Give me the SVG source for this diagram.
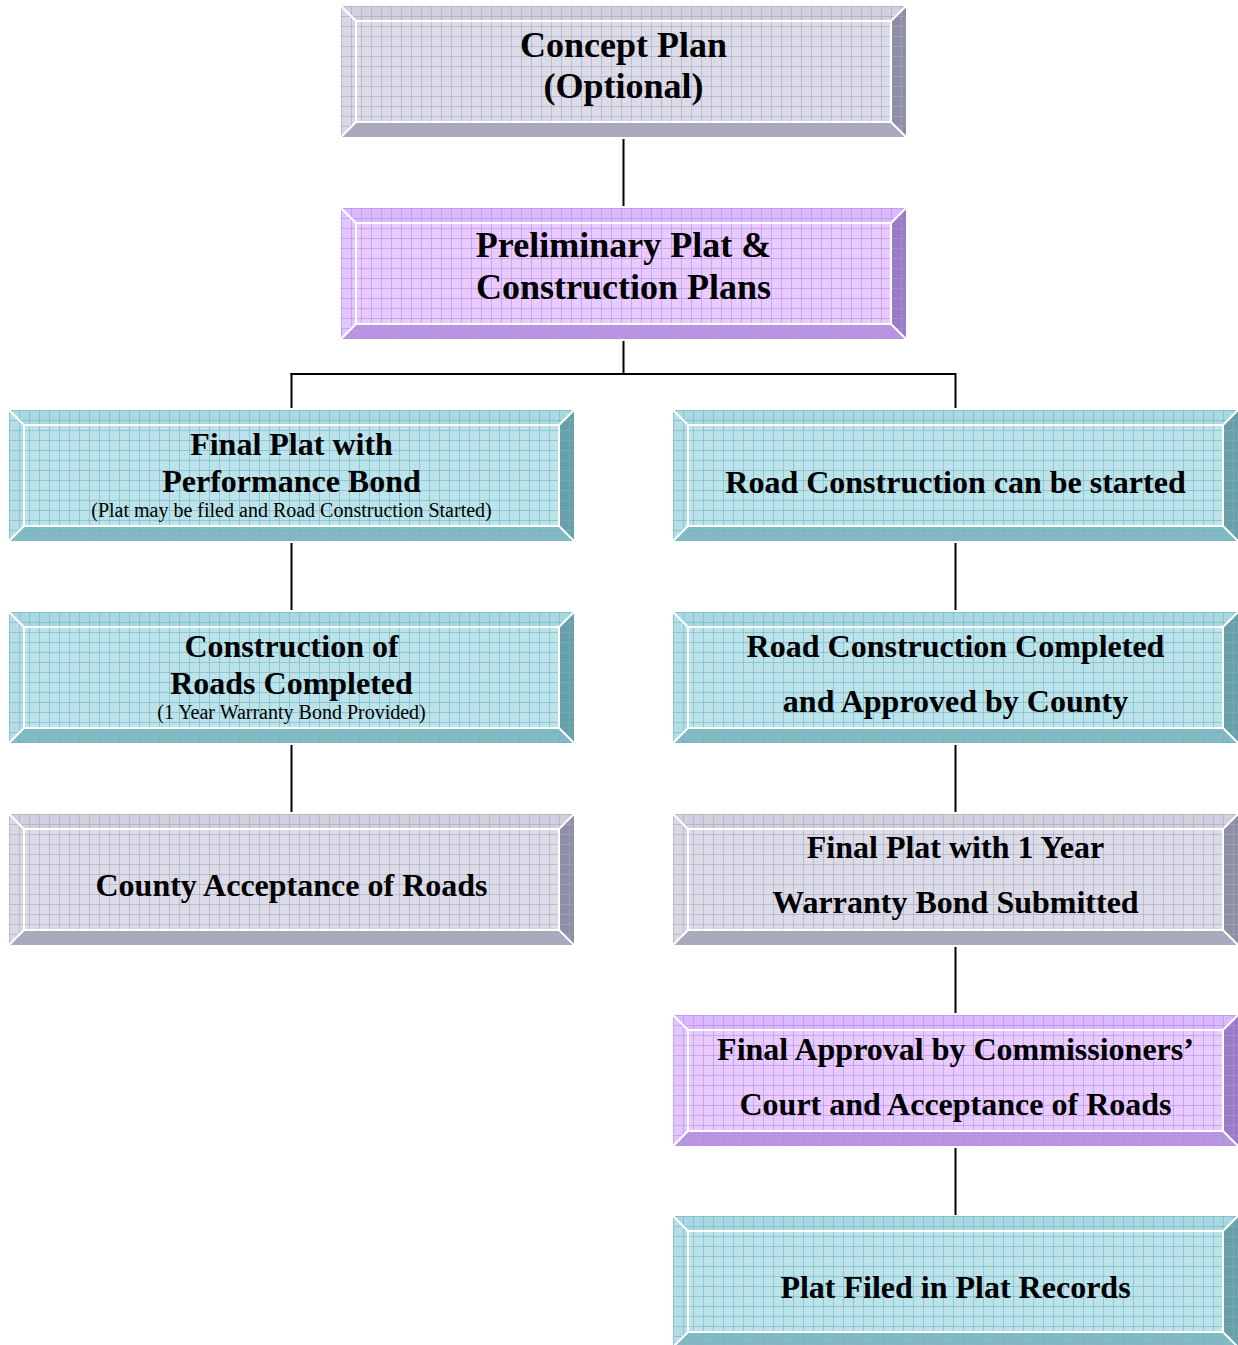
<svg xmlns="http://www.w3.org/2000/svg" width="1238" height="1345" viewBox="0 0 1238 1345">
<style>
.t1{font-family:"Liberation Serif","Times New Roman",serif;font-weight:bold;font-size:36px;text-anchor:middle;fill:#000}
.t2{font-family:"Liberation Serif","Times New Roman",serif;font-weight:bold;font-size:32px;text-anchor:middle;fill:#000}
.t3{font-family:"Liberation Serif","Times New Roman",serif;font-size:20px;text-anchor:middle;fill:#000}
.gray .f{fill:#dcdce8}.gray .tp{fill:#d0d0de}.gray .lf{fill:#d8d8e4}.gray .bt{fill:#a9a9bd}.gray .rt{fill:#8e8ea4}.gray .g{fill:url(#gGray)}
.purp .f{fill:#e8ccff}.purp .tp{fill:#dbb9ff}.purp .lf{fill:#e2c6ff}.purp .bt{fill:#b897e2}.purp .rt{fill:#9a7bc6}.purp .g{fill:url(#gPurp)}
.teal .f{fill:#bce2ea}.teal .tp{fill:#a9d8e1}.teal .lf{fill:#b4dde6}.teal .bt{fill:#82b9c3}.teal .rt{fill:#6a9fa9}.teal .g{fill:url(#gTeal)}
.w{fill:none;stroke:#fff;stroke-width:2}
.conn line{stroke:#000;stroke-width:2}
</style>
<defs>
<pattern id="gGray" width="10" height="10" patternUnits="userSpaceOnUse"><path d="M0 0.5H10M0.5 0V10" stroke="#a8a8c0" stroke-width="1" opacity="0.6" fill="none"/></pattern>
<pattern id="gPurp" width="10" height="10" patternUnits="userSpaceOnUse"><path d="M0 0.5H10M0.5 0V10" stroke="#b98ae8" stroke-width="1" opacity="0.6" fill="none"/></pattern>
<pattern id="gTeal" width="10" height="10" patternUnits="userSpaceOnUse"><path d="M0 0.5H10M0.5 0V10" stroke="#6fb5c3" stroke-width="1" opacity="0.6" fill="none"/></pattern>
</defs>
<rect width="1238" height="1345" fill="#fff"/>
<g id="connectors" class="conn">
<line x1="623.5" y1="139" x2="623.5" y2="206"/>
<line x1="623.5" y1="341" x2="623.5" y2="374"/>
<line x1="290.5" y1="374" x2="955.5" y2="374"/>
<line x1="291.5" y1="373" x2="291.5" y2="408"/>
<line x1="955.5" y1="373" x2="955.5" y2="408"/>
<line x1="291.5" y1="543" x2="291.5" y2="610"/>
<line x1="955.5" y1="543" x2="955.5" y2="610"/>
<line x1="291.5" y1="745" x2="291.5" y2="812"/>
<line x1="955.5" y1="745" x2="955.5" y2="812"/>
<line x1="955.5" y1="947" x2="955.5" y2="1013"/>
<line x1="955.5" y1="1148" x2="955.5" y2="1215"/>
</g>
<g id="n-concept" class="gray" transform="translate(341,6)">
<rect class="f" x="15" y="15" width="535" height="101"/><polygon class="tp" points="0,0 565,0 550,15 15,15"/><polygon class="lf" points="0,0 15,15 15,116 0,131"/><polygon class="bt" points="0,131 15,116 550,116 565,131"/><polygon class="rt" points="565,0 565,131 550,116 550,15"/><rect class="g" width="565" height="131"/><rect class="w" x="15" y="15" width="535" height="101"/><path class="w" d="M0 0L15 15M565 0L550 15M0 131L15 116M565 131L550 116"/>
<text class="t1" x="282.5" y="51">Concept Plan</text><text class="t1" x="282.5" y="92">(Optional)</text></g>
<g id="n-prelim" class="purp" transform="translate(341,208)">
<rect class="f" x="15" y="15" width="535" height="101"/><polygon class="tp" points="0,0 565,0 550,15 15,15"/><polygon class="lf" points="0,0 15,15 15,116 0,131"/><polygon class="bt" points="0,131 15,116 550,116 565,131"/><polygon class="rt" points="565,0 565,131 550,116 550,15"/><rect class="g" width="565" height="131"/><rect class="w" x="15" y="15" width="535" height="101"/><path class="w" d="M0 0L15 15M565 0L550 15M0 131L15 116M565 131L550 116"/>
<text class="t1" x="282.5" y="49">Preliminary Plat &amp;</text><text class="t1" x="282.5" y="91">Construction Plans</text></g>
<g id="n-finalbond" class="teal" transform="translate(9,410)">
<rect class="f" x="15" y="15" width="535" height="101"/><polygon class="tp" points="0,0 565,0 550,15 15,15"/><polygon class="lf" points="0,0 15,15 15,116 0,131"/><polygon class="bt" points="0,131 15,116 550,116 565,131"/><polygon class="rt" points="565,0 565,131 550,116 550,15"/><rect class="g" width="565" height="131"/><rect class="w" x="15" y="15" width="535" height="101"/><path class="w" d="M0 0L15 15M565 0L550 15M0 131L15 116M565 131L550 116"/>
<text class="t2" x="282.5" y="45">Final Plat with</text><text class="t2" x="282.5" y="82">Performance Bond</text><text class="t3" x="282.5" y="107">(Plat may be filed and Road Construction Started)</text></g>
<g id="n-roadstart" class="teal" transform="translate(673,410)">
<rect class="f" x="15" y="15" width="535" height="101"/><polygon class="tp" points="0,0 565,0 550,15 15,15"/><polygon class="lf" points="0,0 15,15 15,116 0,131"/><polygon class="bt" points="0,131 15,116 550,116 565,131"/><polygon class="rt" points="565,0 565,131 550,116 550,15"/><rect class="g" width="565" height="131"/><rect class="w" x="15" y="15" width="535" height="101"/><path class="w" d="M0 0L15 15M565 0L550 15M0 131L15 116M565 131L550 116"/>
<text class="t2" x="282.5" y="83">Road Construction can be started</text></g>
<g id="n-roadsdone" class="teal" transform="translate(9,612)">
<rect class="f" x="15" y="15" width="535" height="101"/><polygon class="tp" points="0,0 565,0 550,15 15,15"/><polygon class="lf" points="0,0 15,15 15,116 0,131"/><polygon class="bt" points="0,131 15,116 550,116 565,131"/><polygon class="rt" points="565,0 565,131 550,116 550,15"/><rect class="g" width="565" height="131"/><rect class="w" x="15" y="15" width="535" height="101"/><path class="w" d="M0 0L15 15M565 0L550 15M0 131L15 116M565 131L550 116"/>
<text class="t2" x="282.5" y="45">Construction of</text><text class="t2" x="282.5" y="82">Roads Completed</text><text class="t3" x="282.5" y="107">(1 Year Warranty Bond Provided)</text></g>
<g id="n-roadapproved" class="teal" transform="translate(673,612)">
<rect class="f" x="15" y="15" width="535" height="101"/><polygon class="tp" points="0,0 565,0 550,15 15,15"/><polygon class="lf" points="0,0 15,15 15,116 0,131"/><polygon class="bt" points="0,131 15,116 550,116 565,131"/><polygon class="rt" points="565,0 565,131 550,116 550,15"/><rect class="g" width="565" height="131"/><rect class="w" x="15" y="15" width="535" height="101"/><path class="w" d="M0 0L15 15M565 0L550 15M0 131L15 116M565 131L550 116"/>
<text class="t2" x="282.5" y="45">Road Construction Completed</text><text class="t2" x="282.5" y="100">and Approved by County</text></g>
<g id="n-countyaccept" class="gray" transform="translate(9,814)">
<rect class="f" x="15" y="15" width="535" height="101"/><polygon class="tp" points="0,0 565,0 550,15 15,15"/><polygon class="lf" points="0,0 15,15 15,116 0,131"/><polygon class="bt" points="0,131 15,116 550,116 565,131"/><polygon class="rt" points="565,0 565,131 550,116 550,15"/><rect class="g" width="565" height="131"/><rect class="w" x="15" y="15" width="535" height="101"/><path class="w" d="M0 0L15 15M565 0L550 15M0 131L15 116M565 131L550 116"/>
<text class="t2" x="282.5" y="82">County Acceptance of Roads</text></g>
<g id="n-finalwarranty" class="gray" transform="translate(673,814)">
<rect class="f" x="15" y="15" width="535" height="101"/><polygon class="tp" points="0,0 565,0 550,15 15,15"/><polygon class="lf" points="0,0 15,15 15,116 0,131"/><polygon class="bt" points="0,131 15,116 550,116 565,131"/><polygon class="rt" points="565,0 565,131 550,116 550,15"/><rect class="g" width="565" height="131"/><rect class="w" x="15" y="15" width="535" height="101"/><path class="w" d="M0 0L15 15M565 0L550 15M0 131L15 116M565 131L550 116"/>
<text class="t2" x="282.5" y="44">Final Plat with 1 Year</text><text class="t2" x="282.5" y="99">Warranty Bond Submitted</text></g>
<g id="n-commissioners" class="purp" transform="translate(673,1015)">
<rect class="f" x="15" y="15" width="535" height="101"/><polygon class="tp" points="0,0 565,0 550,15 15,15"/><polygon class="lf" points="0,0 15,15 15,116 0,131"/><polygon class="bt" points="0,131 15,116 550,116 565,131"/><polygon class="rt" points="565,0 565,131 550,116 550,15"/><rect class="g" width="565" height="131"/><rect class="w" x="15" y="15" width="535" height="101"/><path class="w" d="M0 0L15 15M565 0L550 15M0 131L15 116M565 131L550 116"/>
<text class="t2" x="282.5" y="45">Final Approval by Commissioners’</text><text class="t2" x="282.5" y="100">Court and Acceptance of Roads</text></g>
<g id="n-platfiled" class="teal" transform="translate(673,1216)">
<rect class="f" x="15" y="15" width="535" height="101"/><polygon class="tp" points="0,0 565,0 550,15 15,15"/><polygon class="lf" points="0,0 15,15 15,116 0,131"/><polygon class="bt" points="0,131 15,116 550,116 565,131"/><polygon class="rt" points="565,0 565,131 550,116 550,15"/><rect class="g" width="565" height="131"/><rect class="w" x="15" y="15" width="535" height="101"/><path class="w" d="M0 0L15 15M565 0L550 15M0 131L15 116M565 131L550 116"/>
<text class="t2" x="282.5" y="82">Plat Filed in Plat Records</text></g>
</svg>
